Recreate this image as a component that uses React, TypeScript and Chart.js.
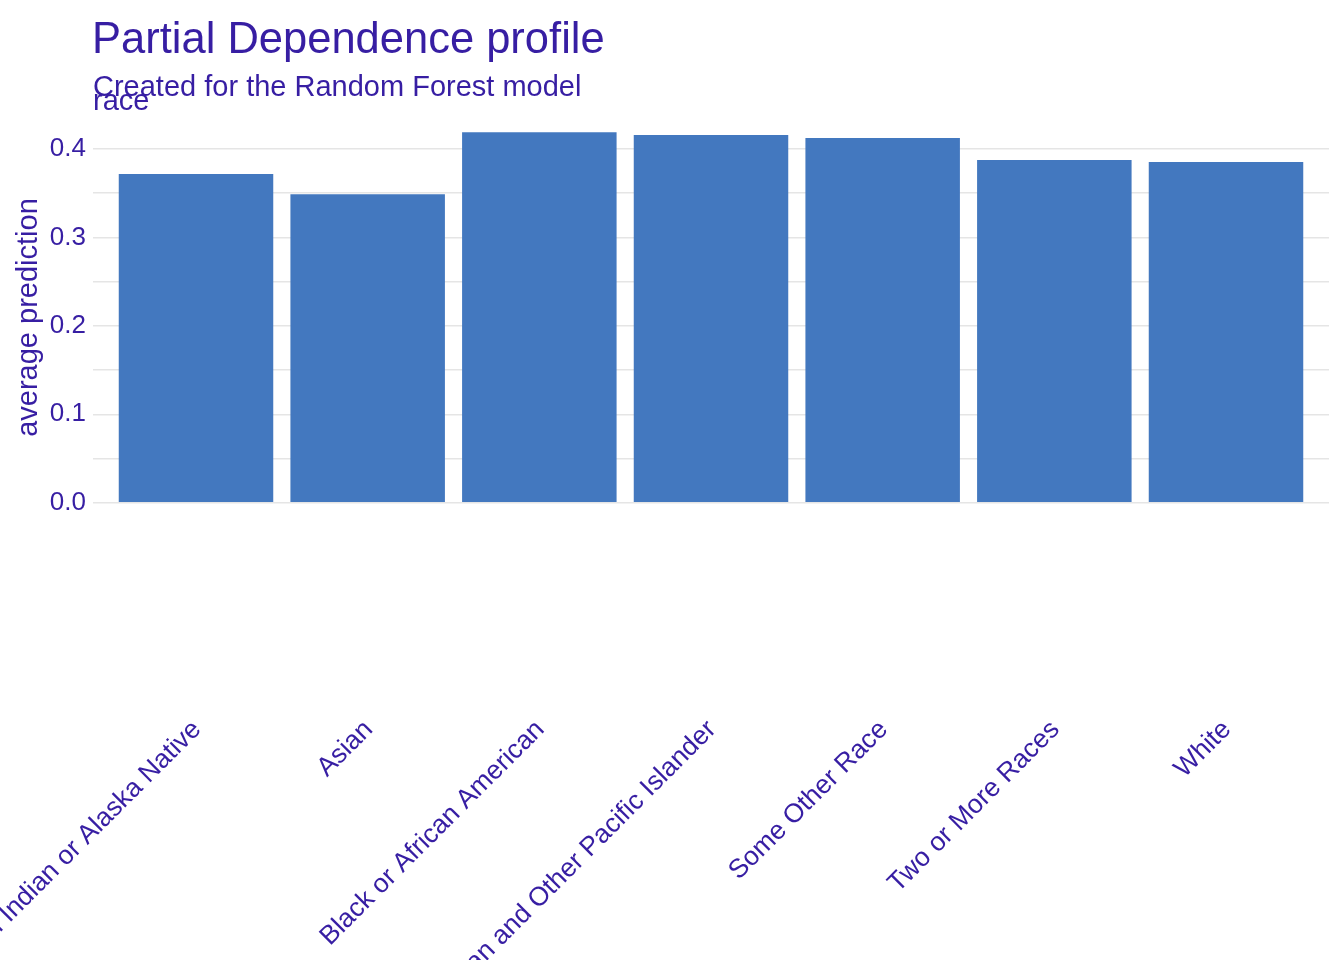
import React, { useEffect, useRef } from "react";
import { Chart, registerables } from "chart.js";

Chart.register(...registerables);

// ---- data ----
const categories = [
  "American Indian or Alaska Native",
  "Asian",
  "Black or African American",
  "Native Hawaiian and Other Pacific Islander",
  "Some Other Race",
  "Two or More Races",
  "White",
];
const averagePrediction = [0.3717, 0.3488, 0.4189, 0.4158, 0.4124, 0.3876, 0.3853];
const yGridValues = [0, 0.05, 0.1, 0.15, 0.2, 0.25, 0.3, 0.35, 0.4];
const yLabeledValues = [0, 0.1, 0.2, 0.3, 0.4];
const titleText = "Partial Dependence profile";
const subtitleText = "Created for the Random Forest model";
const variableName = "race";
const yAxisTitle = "average prediction";

// ---- style ----
const FONT = "'Liberation Sans', Arial, Helvetica, sans-serif";
const TEXT = "#371EA3";
const BAR = "#4378BF";
const GRID = "#E5E5E5";
const W = 1344;
const H = 960;
const PLOT_TOP = 113.8;
const PLOT_BOTTOM = 521.2;
const PLOT_LEFT = 93;
const PLOT_RIGHT = 1329;

const headerPlugin = {
  id: "header",
  afterDraw(chart: any) {
    const ctx = chart.ctx;
    const left = chart.chartArea.left;
    ctx.save();
    ctx.fillStyle = TEXT;
    ctx.textAlign = "left";
    ctx.textBaseline = "alphabetic";
    ctx.font = `43.5px ${FONT}`;
    ctx.fillText(titleText, left - 1, 53);
    ctx.font = `29px ${FONT}`;
    ctx.fillText(subtitleText, left, 96);
    ctx.fillText(variableName, left, 110);
    ctx.restore();
  },
};

export default function App() {
  const ref = useRef<HTMLCanvasElement>(null);

  useEffect(() => {
    document.body.style.margin = "0";
    const dataMax = Math.max(...averagePrediction);
    const yPad = 0.05 * (dataMax - 0);
    const chart = new Chart(ref.current as HTMLCanvasElement, {
      type: "bar",
      data: {
        datasets: [
          {
            data: averagePrediction.map((v, i) => ({ x: i, y: v })),
            backgroundColor: BAR,
            borderWidth: 0,
            categoryPercentage: 1,
            barPercentage: 0.9,
          },
        ],
      },
      options: {
        animation: false,
        responsive: false,
        devicePixelRatio: 1,
        layout: {
          padding: { top: PLOT_TOP, right: W - PLOT_RIGHT, left: 0, bottom: 0 },
        },
        plugins: {
          legend: { display: false },
          tooltip: { enabled: false },
          title: { display: false },
        },
        scales: {
          x: {
            type: "linear",
            min: -0.6,
            max: categories.length - 1 + 0.6,
            offset: false,
            grid: { display: false, drawTicks: false },
            border: { display: false },
            afterBuildTicks: (s: any) => {
              s.ticks = categories.map((_, i) => ({ value: i }));
            },
            afterFit: (s: any) => {
              s.height = H - PLOT_BOTTOM;
              s.paddingLeft = 0;
              s.paddingRight = 0;
              s.paddingTop = 0;
              s.paddingBottom = 0;
            },
            ticks: {
              autoSkip: false,
              minRotation: 45,
              maxRotation: 45,
              padding: 193,
              labelOffset: 1,
              color: TEXT,
              font: { size: 26.5, family: FONT },
              callback: (v: any) => categories[Math.round(Number(v))] ?? "",
            },
          },
          y: {
            type: "linear",
            min: -yPad,
            max: dataMax + yPad,
            grid: { color: GRID, lineWidth: 1.5, drawTicks: false, tickLength: 0 },
            border: { display: false },
            afterBuildTicks: (s: any) => {
              s.ticks = yGridValues.map((v) => ({ value: v }));
            },
            afterFit: (s: any) => {
              s.width = PLOT_LEFT;
              s.paddingTop = 0;
              s.paddingBottom = 0;
              s.paddingLeft = 0;
              s.paddingRight = 0;
            },
            ticks: {
              padding: 7,
              color: TEXT,
              font: { size: 26, family: FONT },
              callback: (v: any) => {
                const n = Number(v);
                return yLabeledValues.some((l) => Math.abs(l - n) < 1e-9) ? n.toFixed(1) : "";
              },
            },
            title: {
              display: true,
              text: yAxisTitle,
              color: TEXT,
              font: { size: 29, family: FONT },
              padding: { top: 12, bottom: 0 },
            },
          },
        },
      },
      plugins: [headerPlugin],
    } as any);
    return () => chart.destroy();
  }, []);

  return (
    <div style={{ position: "fixed", left: 0, top: 0, width: W, height: H, background: "#fff" }}>
      <canvas ref={ref} width={W} height={H} style={{ width: W, height: H, display: "block" }} />
    </div>
  );
}
